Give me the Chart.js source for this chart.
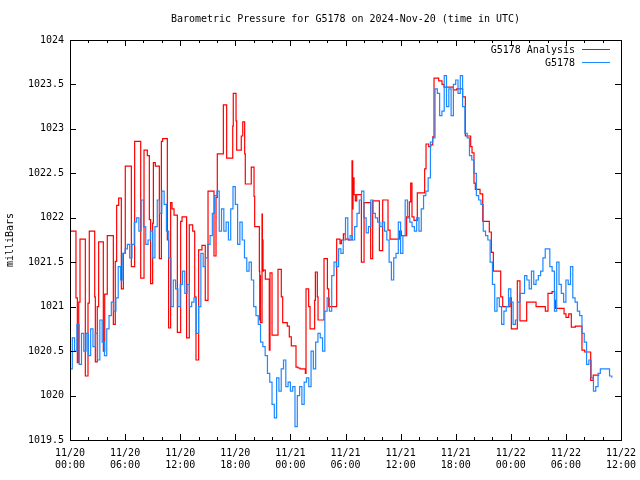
<!DOCTYPE html>
<html>
<head>
<meta charset="utf-8">
<script src="https://cdn.jsdelivr.net/npm/chart.js@4.4.1/dist/chart.umd.min.js"></script>
<style>
  body { margin: 0; background: #fff; }
</style>
</head>
<body>
<canvas id="baro" width="640" height="480"></canvas>
<script>
// hours since 2024-11-20 00:00 UTC
var tickDates = ["11/20", "11/20", "11/20", "11/20", "11/21", "11/21", "11/21", "11/21", "11/22", "11/22", "11/22"];
var tickTimes = ["00:00", "06:00", "12:00", "18:00", "00:00", "06:00", "12:00", "18:00", "00:00", "06:00", "12:00"];

// G5178 Analysis: step changes (hour, mb)
var redHours = [
  0.0, 0.65, 0.8, 0.95, 1.09, 1.67, 1.96, 2.1, 2.69, 2.76, 2.97, 3.12, 3.63, 3.78, 4.06, 4.72, 4.93, 5.08, 5.3, 5.59, 5.81, 6.02, 6.68, 7.04, 7.7, 8.06,
  8.42, 8.64, 8.78, 9.0, 9.08, 9.29, 9.73, 9.95, 10.09, 10.6, 10.74, 10.96, 11.11, 11.33, 11.69, 12.05, 12.2, 12.7, 12.99, 13.36, 13.58, 13.72, 14.01, 14.37, 14.73, 15.03, 15.68, 15.9, 16.04, 16.7,
  17.06, 17.72, 17.78, 18.08, 18.15, 18.65, 18.81, 19.02, 19.09, 19.74, 20.04, 20.11, 20.62, 20.66, 20.7, 20.73, 20.77, 20.91, 20.95, 20.98, 21.02, 21.05, 21.27, 21.7, 21.78, 22.0, 22.65, 23.01, 23.16, 23.66, 23.88, 24.1, 24.61, 24.83, 25.05,
  25.63, 25.7, 25.99, 26.14, 26.64, 26.72, 26.93, 27.01, 27.66, 28.03, 28.17, 29.04, 29.4, 29.55, 29.77, 29.98, 30.34, 30.71, 30.78, 30.82, 30.93, 31.07, 31.22, 31.73, 32.02, 32.74, 32.96, 33.69,
  34.05, 34.63, 34.85, 35.86, 36.08, 36.66, 36.95, 37.1, 37.24, 37.46, 37.82, 38.62, 38.77, 39.06, 39.28, 39.5, 39.64, 40.15, 40.51, 40.73, 41.74, 42.11,
  42.76, 43.05, 43.63, 43.78, 43.99, 44.14, 44.65, 44.94, 45.66, 45.88, 46.1, 46.9, 47.12, 47.91, 48.06, 48.71, 49.0, 49.73, 50.75,
  51.76, 52.05, 52.49, 52.78, 52.85, 53.8, 54.01, 54.31, 54.59, 55.03, 55.75, 56.05, 56.7, 56.98, 57.64
];
var redValues = [
  1021.85, 1021.1, 1020.37, 1021.05, 1021.76, 1020.22, 1021.04, 1021.85, 1021.11, 1020.38, 1021.0, 1021.73, 1020.5, 1021.14, 1021.8, 1020.8, 1021.51, 1022.14, 1022.22, 1021.2, 1021.6, 1022.58, 1021.45, 1022.86, 1021.32, 1022.76,
  1022.7, 1021.98, 1021.26, 1021.94, 1022.62, 1022.58, 1021.54, 1022.86, 1022.89, 1021.75, 1020.76, 1022.17, 1022.1, 1022.03, 1020.71, 1021.96, 1022.01, 1020.65, 1021.92, 1021.85, 1021.11, 1020.4, 1021.64, 1021.69, 1021.07, 1022.3, 1021.57, 1022.23, 1022.72, 1023.27,
  1022.67, 1023.03, 1023.4, 1023.09, 1022.76, 1022.92, 1023.08, 1022.72, 1022.38, 1022.57, 1022.24, 1021.9, 1021.4, 1020.85, 1021.35, 1020.82, 1020.82, 1022.04, 1021.45, 1021.75, 1021.4, 1021.41, 1021.31, 1020.51, 1021.38, 1020.68, 1021.42, 1021.11, 1020.82, 1020.78, 1020.66, 1020.56, 1020.32, 1020.31, 1020.3,
  1020.25, 1021.2, 1021.0, 1020.75, 1021.07, 1021.39, 1021.11, 1020.85, 1021.54, 1021.2, 1021.0, 1021.76, 1021.71, 1021.75, 1021.82, 1021.76, 1021.75, 1022.64, 1022.1, 1022.45, 1022.26, 1022.19, 1022.26, 1021.5, 1022.17, 1021.54, 1022.19, 1021.63,
  1022.2, 1021.86, 1021.76, 1021.85, 1021.8, 1022.01, 1022.18, 1022.39, 1022.01, 1021.97, 1022.28, 1022.55, 1022.83, 1022.8, 1022.82, 1022.91, 1023.57, 1023.54, 1023.5, 1023.47, 1023.44, 1023.45,
  1023.36, 1022.92, 1022.8, 1022.73, 1022.39, 1022.32, 1022.27, 1021.96, 1021.84, 1021.61, 1021.4, 1021.11, 1021.0, 1021.1, 1020.75, 1021.29, 1020.84, 1021.05, 1021.0,
  1020.95, 1021.15, 1021.17, 1021.07, 1020.98, 1020.92, 1020.88, 1020.92, 1020.77, 1020.78, 1020.51, 1020.49, 1020.17, 1020.23, 1020.23
];

// G5178 station readings, one every 15 minutes from 00:00
var blueStep = 0.25;
var blueValues = [
  1020.3, 1020.65, 1020.5, 1020.8, 1020.35, 1020.7, 1020.5, 1020.7, 1020.45, 1020.75,
  1020.55, 1020.7, 1020.4, 1020.85, 1020.6, 1020.45, 1020.75, 1020.9, 1021.05, 1020.95,
  1021.1, 1021.45, 1021.3, 1021.6, 1021.65, 1021.7, 1021.55, 1021.7, 1021.95, 1022.0,
  1021.85, 1022.2, 1021.9, 1021.7, 1021.75,
  1021.85, 1021.55, 1021.9, 1022.2, 1022.05, 1022.3, 1022.15, 1021.85, 1021.55, 1021.0,
  1021.3, 1021.2, 1021.0, 1021.25, 1021.4, 1021.15, 1021.25, 1021.0, 1021.05, 1021.1,
  1020.7, 1021.0, 1021.6, 1021.45, 1021.55, 1021.7, 1021.8, 1022.05, 1022.25, 1022.3,
  1021.85, 1022.1, 1021.85, 1021.95,
  1021.75, 1022.1, 1022.35, 1022.15, 1021.7, 1021.95, 1021.75, 1021.55, 1021.4, 1021.5,
  1021.3, 1021.0, 1020.9, 1020.8, 1020.6, 1020.55, 1020.45, 1020.25, 1020.15, 1019.9,
  1019.75, 1020.2, 1020.05, 1020.3, 1020.4, 1020.1, 1020.15, 1020.05, 1020.1, 1019.65,
  1020.0, 1020.1, 1019.9, 1020.15,
  1020.2, 1020.1, 1020.5, 1020.3, 1020.6, 1020.7, 1020.65, 1020.5, 1020.95, 1021.1,
  1020.95, 1021.35, 1021.5, 1021.45, 1021.65, 1021.6, 1021.75, 1022.0, 1021.75, 1021.8,
  1021.75, 1021.9, 1022.05, 1022.2, 1022.3, 1022.0, 1021.83, 1021.9, 1022.2, 1022.05,
  1022.0, 1021.95, 1021.9, 1021.95,
  1021.85, 1021.75, 1021.5, 1021.3, 1021.55, 1021.6, 1021.95, 1021.6, 1021.8, 1022.2,
  1022.0, 1021.95, 1021.9, 1021.85, 1022.0, 1021.85, 1022.1, 1022.25, 1022.3, 1022.45,
  1022.85, 1022.9, 1023.45, 1023.4, 1023.15, 1023.2, 1023.6, 1023.25, 1023.45, 1023.15,
  1023.5, 1023.55, 1023.4, 1023.6,
  1023.25, 1022.95, 1022.9, 1022.7, 1022.65, 1022.5, 1022.25, 1022.2, 1022.15, 1021.85,
  1021.8, 1021.75, 1021.5, 1021.25, 1020.95, 1021.1, 1021.0, 1020.8, 1020.95, 1021.0,
  1021.2, 1021.05, 1020.8, 1020.85, 1021.05, 1021.15, 1021.15, 1021.35, 1021.3, 1021.2,
  1021.4, 1021.25, 1021.3, 1021.35,
  1021.4, 1021.55, 1021.65, 1021.65, 1021.45, 1021.4, 1020.95, 1021.5, 1021.25, 1021.15,
  1021.05, 1021.3, 1021.25, 1021.45, 1021.1, 1021.05, 1020.95, 1020.9, 1020.7, 1020.6,
  1020.35, 1020.4, 1020.2, 1020.05, 1020.1, 1020.25, 1020.3, 1020.3, 1020.3, 1020.3,
  1020.22, 1020.2
];

var FONT = '"DejaVu Sans Mono", "Liberation Mono", monospace';

var redPts = redHours.map(function (h, i) { return { x: h, y: redValues[i] }; });
var bluePts = blueValues.map(function (v, i) { return { x: i * blueStep, y: v }; });

// gnuplot style frame: border, inward ticks, title, legend
var gnuFrame = {
  id: 'gnuFrame',
  afterDraw: function (chart) {
    var ctx = chart.ctx, a = chart.chartArea;
    var xs = chart.scales.x, ys = chart.scales.y;
    ctx.save();
    ctx.strokeStyle = '#000';
    ctx.lineWidth = 1;
    ctx.strokeRect(a.left + 0.5, a.top + 0.5, a.right - a.left, a.bottom - a.top);

    ctx.beginPath();
    for (var h = xs.min; h <= xs.max; h += 2) {
      var px = Math.round(xs.getPixelForValue(h)) + 0.5;
      var len = (h % 6 === 0) ? 6 : 3;
      ctx.moveTo(px, a.bottom); ctx.lineTo(px, a.bottom - len);
      ctx.moveTo(px, a.top); ctx.lineTo(px, a.top + len);
    }
    ys.ticks.forEach(function (t) {
      var py = Math.round(ys.getPixelForValue(t.value)) + 0.5;
      ctx.moveTo(a.left, py); ctx.lineTo(a.left + 6, py);
      ctx.moveTo(a.right, py); ctx.lineTo(a.right - 6, py);
    });
    ctx.stroke();

    ctx.fillStyle = '#000';
    ctx.font = '10px ' + FONT;
    ctx.textBaseline = 'middle';
    ctx.textAlign = 'center';
    ctx.fillText('Barometric Pressure for G5178 on 2024-Nov-20 (time in UTC)', (a.left + a.right) / 2, 19);

    ctx.textAlign = 'right';
    var legend = [['G5178 Analysis', '#ff0000', 50], ['G5178', '#1e88ff', 63]];
    legend.forEach(function (l) {
      ctx.fillStyle = '#000';
      ctx.fillText(l[0], 575, l[2]);
      ctx.strokeStyle = l[1];
      ctx.beginPath();
      ctx.moveTo(582, l[2] - 0.5); ctx.lineTo(610, l[2] - 0.5);
      ctx.stroke();
    });
    ctx.restore();
  }
};

new Chart(document.getElementById('baro'), {
  type: 'line',
  data: {
    datasets: [
      {
        label: 'G5178 Analysis',
        data: redPts,
        borderColor: '#ff0000',
        borderWidth: 1.2,
        pointRadius: 0,
        stepped: true,
        order: 2
      },
      {
        label: 'G5178',
        data: bluePts,
        borderColor: '#1e88ff',
        borderWidth: 1.2,
        pointRadius: 0,
        stepped: true,
        order: 1
      }
    ]
  },
  options: {
    responsive: false,
    animation: false,
    layout: { padding: { top: 40, right: 19, left: 0, bottom: 0 } },
    plugins: {
      legend: { display: false },
      title: { display: false },
      tooltip: { enabled: false }
    },
    scales: {
      x: {
        type: 'linear',
        min: 0,
        max: 60,
        grid: { display: false, drawTicks: false },
        border: { display: false },
        afterFit: function (s) { s.height = 40; s.paddingLeft = 0; s.paddingRight = 0; },
        ticks: {
          stepSize: 6,
          autoSkip: false,
          maxRotation: 0,
          padding: 7,
          color: '#000',
          font: { family: FONT, size: 10 },
          callback: function (v) {
            var i = Math.round(v / 6);
            return [tickDates[i], tickTimes[i]];
          }
        }
      },
      y: {
        min: 1019.5,
        max: 1024,
        grid: { display: false, drawTicks: false },
        border: { display: false },
        afterFit: function (s) { s.width = 70; },
        title: {
          display: true,
          text: 'milliBars',
          color: '#000',
          padding: 4,
          font: { family: FONT, size: 10 }
        },
        ticks: {
          stepSize: 0.5,
          padding: 6,
          color: '#000',
          font: { family: FONT, size: 10 },
          callback: function (v) { return String(Number(v.toFixed(1))); }
        }
      }
    }
  },
  plugins: [gnuFrame]
});
</script>
</body>
</html>
